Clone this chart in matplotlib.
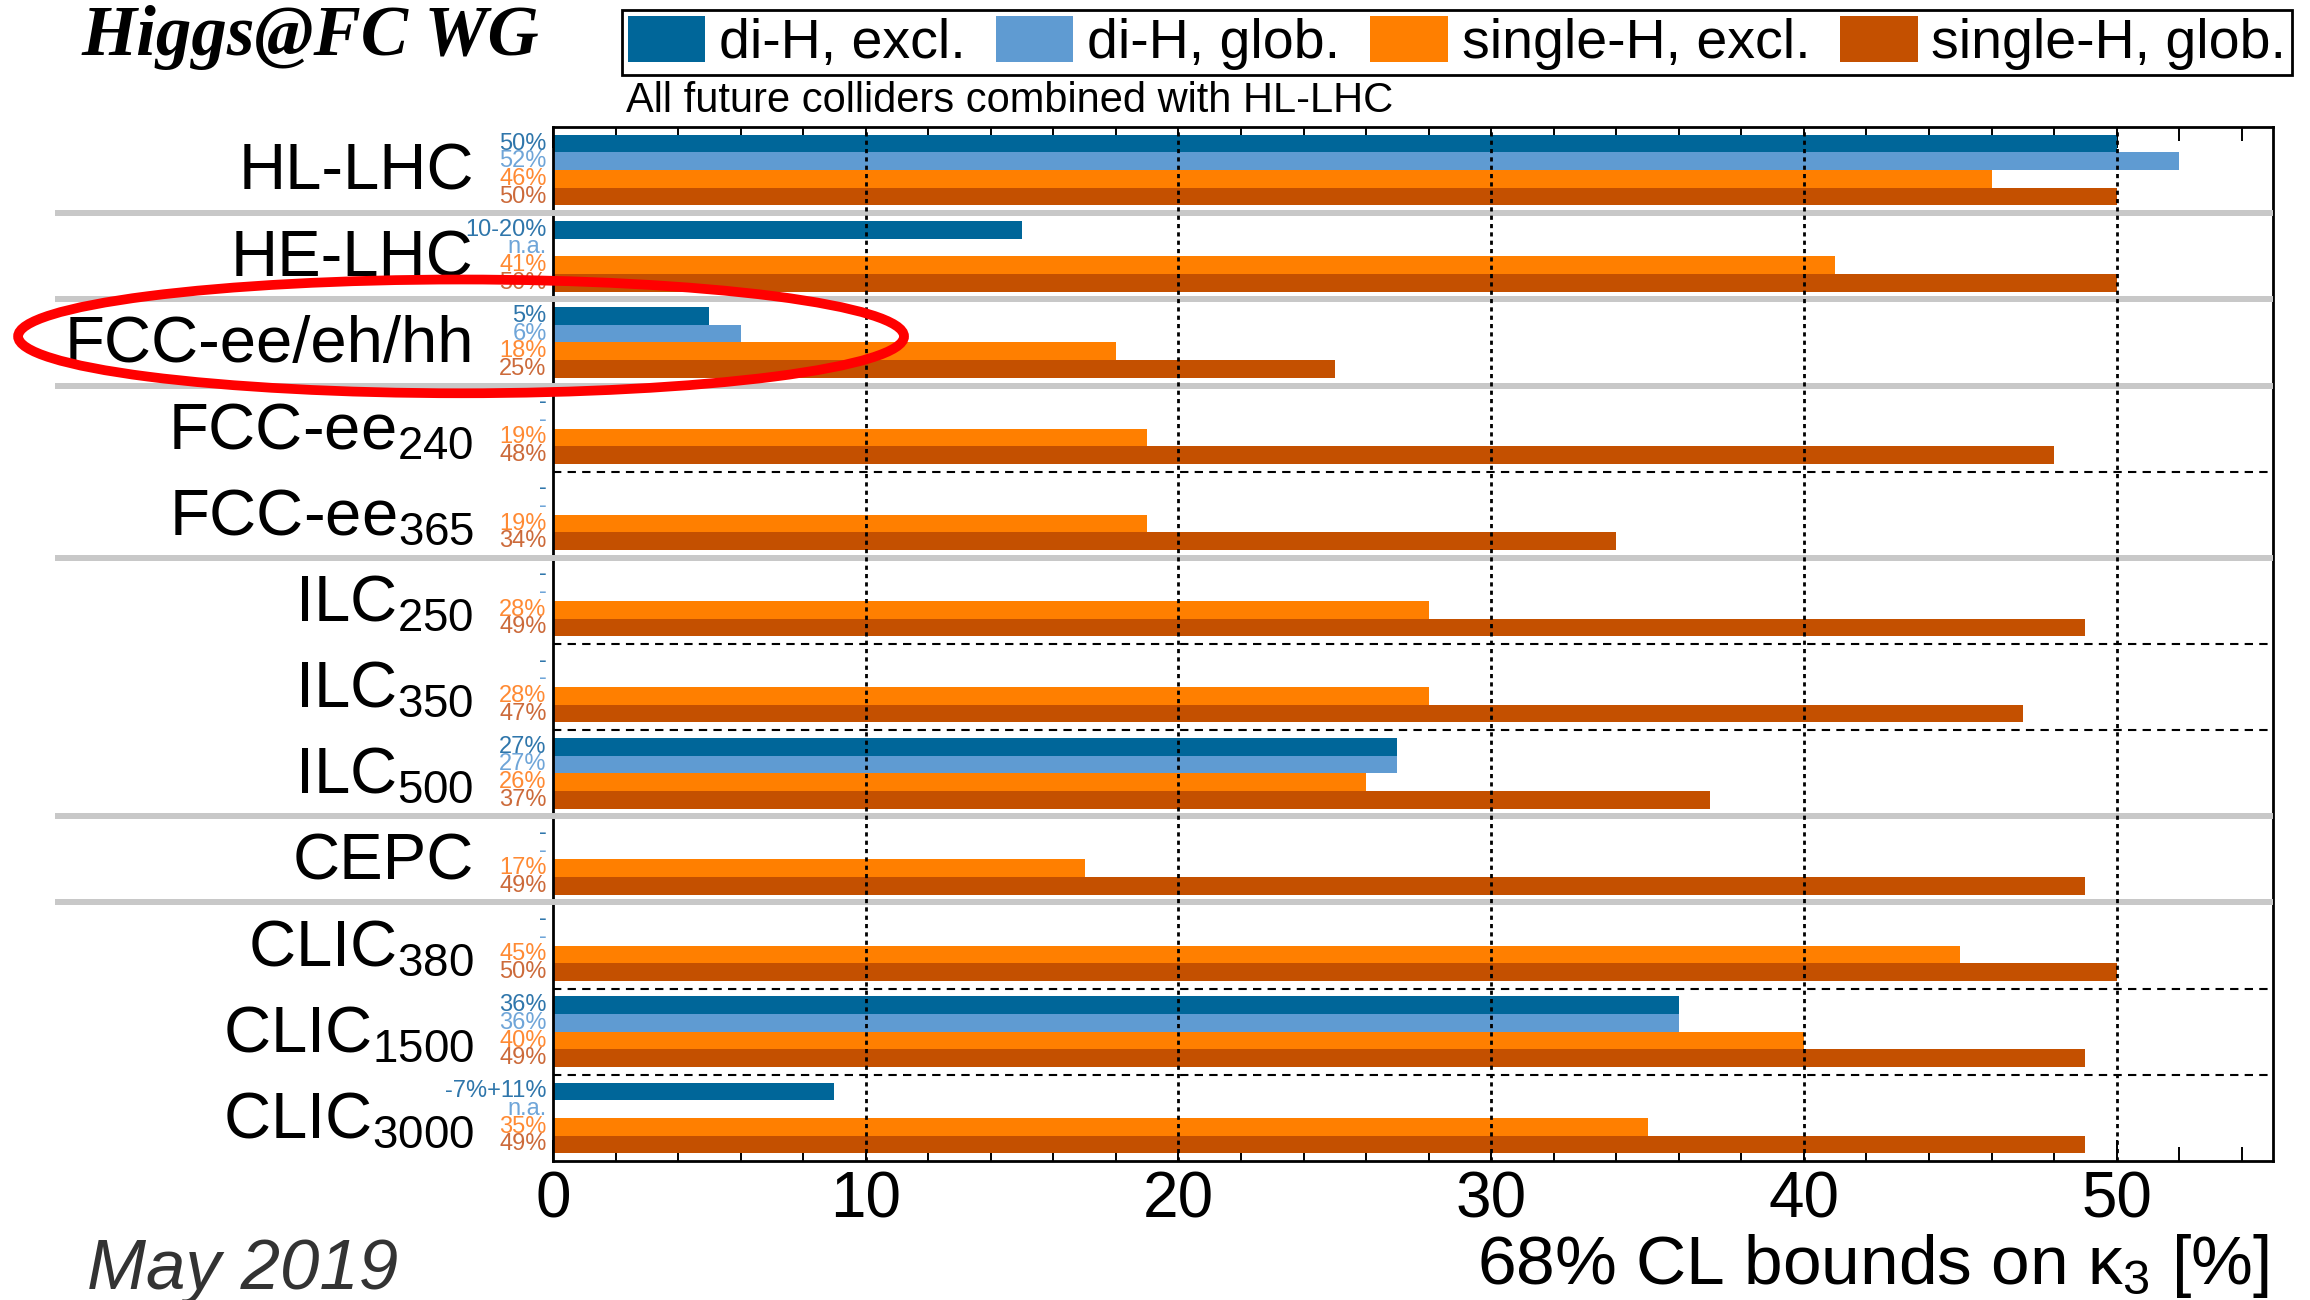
import numpy as np
import matplotlib
matplotlib.use('Agg')
import matplotlib.pyplot as plt
from matplotlib.patches import Patch, Ellipse
from matplotlib.ticker import MultipleLocator

plt.rcParams['font.family'] = ['Liberation Sans', 'DejaVu Sans']
plt.rcParams['mathtext.fontset'] = 'custom'
plt.rcParams['mathtext.rm'] = 'Liberation Sans'
plt.rcParams['mathtext.it'] = 'Liberation Sans:italic'
plt.rcParams['mathtext.bf'] = 'Liberation Sans:bold'

nan = np.nan

colliders = ['HL-LHC', 'HE-LHC', 'FCC-ee/eh/hh', 'FCC-ee$_{240}$', 'FCC-ee$_{365}$',
             'ILC$_{250}$', 'ILC$_{350}$', 'ILC$_{500}$', 'CEPC',
             'CLIC$_{380}$', 'CLIC$_{1500}$', 'CLIC$_{3000}$']

dih_excl = [50, 15, 5, nan, nan, nan, nan, 27, nan, nan, 36, 9]
dih_glob = [52, nan, 6, nan, nan, nan, nan, 27, nan, nan, 36, nan]
sh_excl = [46, 41, 18, 19, 19, 28, 28, 26, 17, 45, 40, 35]
sh_glob = [50, 50, 25, 48, 34, 49, 47, 37, 49, 50, 49, 49]

dih_excl_lab = ['50%', '10-20%', '5%', '-', '-', '-', '-', '27%', '-', '-', '36%', '-7%+11%']
dih_glob_lab = ['52%', 'n.a.', '6%', '-', '-', '-', '-', '27%', '-', '-', '36%', 'n.a.']

series_names = ['di-H, excl.', 'di-H, glob.', 'single-H, excl.', 'single-H, glob.']
colors = ['#006699', '#5f9bd2', '#ff7f00', '#c45000']
label_colors = ['#2f76ab', '#6fa5d8', '#ff8a33', '#cc6a3a']

# separators: grey between collider groups, dashed inside a group
grey_at = [1, 2, 3, 5, 8, 9]
dash_at = [4, 6, 7, 10, 11]

W, H = 2310, 1300
fig = plt.figure(figsize=(W / 100, H / 100), dpi=100)
ax = fig.add_axes([553 / W, 139 / H, 1720 / W, 1034 / H])

series = [dih_excl, dih_glob, sh_excl, sh_glob]
labels = [dih_excl_lab, dih_glob_lab,
          ['%g%%' % v for v in sh_excl], ['%g%%' % v for v in sh_glob]]

rows = np.arange(len(colliders))
h = 0.205
for j in range(4):
    vals = np.array(series[j], dtype=float)
    y = rows + 0.5 + (j - 1.5) * h
    m = ~np.isnan(vals)
    ax.barh(y[m], vals[m], height=h, color=colors[j], zorder=2)
    for yy, lab in zip(y, labels[j]):
        ax.annotate(lab, xy=(0, yy), xytext=(-4.5, 0), textcoords='offset points',
                    ha='right', va='center', fontsize=17, color=label_colors[j],
                    annotation_clip=False)

for i, name in enumerate(colliders):
    ax.annotate(name, xy=(0, i + 0.5), xytext=(-57, -2), textcoords='offset points',
                ha='right', va='center', fontsize=47, annotation_clip=False)

ax.set_xlim(0, 55)
ax.set_ylim(len(colliders), 0)
ax.set_yticks([])
ax.set_xticks(range(0, 51, 10))
ax.xaxis.set_minor_locator(MultipleLocator(2))
ax.tick_params(axis='x', which='both', direction='in', top=True, bottom=True, width=1.4)
ax.tick_params(axis='x', which='major', length=15, labelsize=46, pad=7)
ax.tick_params(axis='x', which='minor', length=10)
for s in ax.spines.values():
    s.set_linewidth(2)

for x in range(10, 51, 10):
    ax.axvline(x, color='k', lw=2, ls=(0, (1.5, 1.5)), zorder=4)

trans = ax.get_yaxis_transform()
for y in grey_at:
    ax.plot([-0.2895, 1], [y, y], transform=trans, color='#c8c8c8', lw=4.3,
            clip_on=False, zorder=3, solid_capstyle='butt')
for y in dash_at:
    ax.plot([0, 1], [y, y], transform=trans, color='k', lw=1.5, ls=(0, (4, 3)), zorder=3)

# red ring around FCC-ee/eh/hh
ring = Ellipse((-2.94, 2.43), 28.33, 1.32, fill=False, edgecolor='red', lw=7,
               clip_on=False, zorder=10)
ax.add_patch(ring)

handles = [Patch(facecolor=c, edgecolor='none') for c in colors]
leg = fig.legend(handles, series_names, loc='upper left',
                 bbox_to_anchor=(622 / W, 1 - 76 / H, 1670 / W, 66 / H),
                 mode='expand', ncol=4, fontsize=40, handlelength=1.4,
                 handleheight=0.9, handletextpad=0.25, columnspacing=0.3,
                 borderpad=0.1, borderaxespad=0, fancybox=False,
                 edgecolor='black', framealpha=1)
leg.get_frame().set_linewidth(2)

fig.text(626 / W, 1 - 112 / H, 'All future colliders combined with HL-LHC',
         fontsize=30, va='baseline')
fig.text(82 / W, 1 - 55 / H, 'Higgs@FC WG', family='Liberation Serif',
         weight='bold', style='italic', fontsize=51, va='baseline')
fig.text(2268 / W, 1 - 1284 / H, '68% CL bounds on κ$_3$ [%]', ha='right',
         va='baseline', fontsize=50)
fig.text(87 / W, 1 - 1289 / H, 'May 2019', style='italic', fontsize=51,
         va='baseline', color='#333333')

fig.savefig('out.png', dpi=100)
